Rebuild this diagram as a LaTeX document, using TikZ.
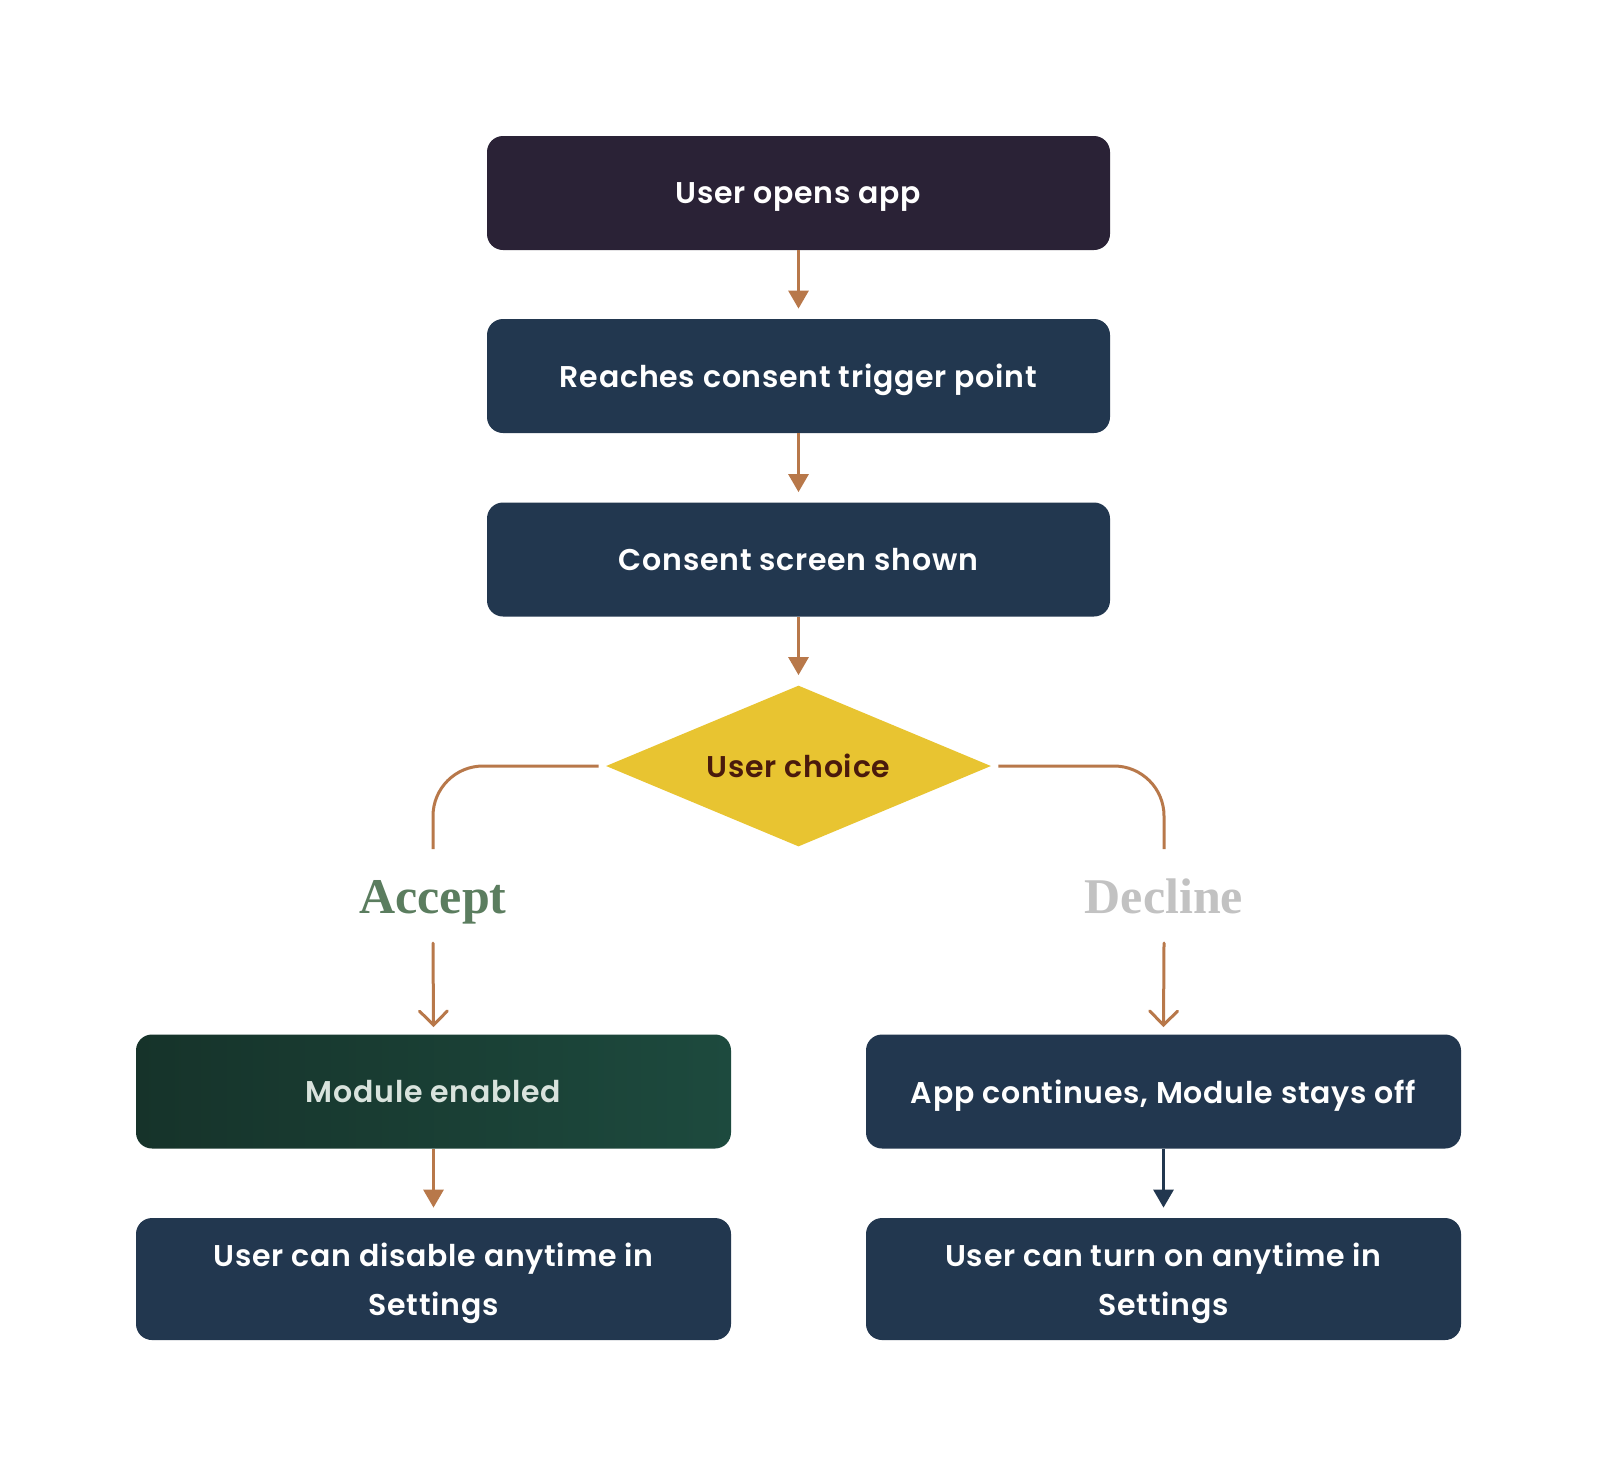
\documentclass[tikz,border=0pt]{standalone}
\usepackage{fontspec}
\setmainfont{Poppins}[BoldFont={Poppins SemiBold},LetterSpace=2.5]
\newfontfamily\labelfont{Liberation Serif}
\usetikzlibrary{shapes.geometric,arrows.meta}
\definecolor{boxdark}{HTML}{2A2236}
\definecolor{navy}{HTML}{22374F}
\definecolor{gleft}{HTML}{16332A}
\definecolor{gright}{HTML}{1D4A3E}
\definecolor{diam}{HTML}{E8C431}
\definecolor{choicetxt}{HTML}{4A1A0C}
\definecolor{arr}{HTML}{B8784A}
\definecolor{acc}{HTML}{5B7D5F}
\definecolor{dec}{HTML}{C2C2C2}
\definecolor{modtxt}{HTML}{D9E3DD}
\tikzset{
  box/.style={rectangle, rounded corners=8pt, minimum width=311.5pt, minimum height=57pt,
    inner sep=0pt, text=white, align=center, text depth=0pt,
    font=\bfseries\fontsize{15}{24.5}\selectfont},
  widebox/.style={box, minimum width=297.5pt},
  tallbox/.style={widebox, minimum height=61pt},
  flow/.style={draw=arr, line width=1.5pt, -{Triangle[width=10pt,length=9pt]}},
  navyflow/.style={draw=navy, line width=1.5pt, -{Triangle[width=10pt,length=9pt]}},
  branch/.style={draw=arr, line width=1.5pt, rounded corners=25pt},
  openflow/.style={draw=arr, line width=1.5pt, line cap=round, -{Straight Barb[width=14pt,length=7pt,line cap=round]}},
  choicelabel/.style={font=\labelfont\bfseries\fontsize{25}{30}\selectfont}
}
\begin{document}
\begin{tikzpicture}[x=0.5pt,y=-0.5pt]
\useasboundingbox (0,0) rectangle (1598,1478);
\fill[white] (0,0) rectangle (1598,1478);

\node[box, fill=boxdark] (open) at (798.5,193) {User opens app};
\node[box, fill=navy] (reach) at (798.5,376) {Reaches consent trigger point};
\node[box, fill=navy] (shown) at (798.5,559.5) {Consent screen shown};
\node[diamond, fill=diam, minimum width=192.5pt, minimum height=80.5pt, aspect=2.39, inner sep=0pt,
  text=choicetxt, text depth=0pt, font=\bfseries\fontsize{15}{18}\selectfont] (choice) at (798.5,766) {User choice};

\coordinate (aL) at (433,849);
\coordinate (aR) at (1164,849);
\node[choicelabel, text=acc] (accept) at (433,902) {Accept};
\node[choicelabel, text=dec] (decline) at (1164,896) {Decline};

\node[widebox, left color=gleft, right color=gright, text=modtxt] (mod) at (433.5,1091.5) {Module enabled};
\node[widebox, fill=navy] (cont) at (1163.5,1091.5) {App continues, Module stays off};
\node[tallbox, fill=navy] (dis) at (433.5,1279) {User can disable anytime in\\Settings};
\node[tallbox, fill=navy] (on) at (1163.5,1279) {User can turn on anytime in\\Settings};

\draw[flow] (open.south) -- ([yshift=5pt]reach.north);
\draw[flow] (reach.south) -- ([yshift=5pt]shown.north);
\draw[flow] (shown.south) -- ([yshift=5pt]choice.north);

\draw[branch] ([xshift=-3.5pt]choice.west) -| (aL);
\draw[branch] ([xshift=3.5pt]choice.east) -| (aR);

\draw[openflow] ([yshift=-20.5pt]accept.center) -- ([yshift=3.5pt]mod.north);
\draw[openflow] ([yshift=-23.5pt]decline.center) -- ([yshift=3.5pt]cont.north);

\draw[flow] (mod.south) -- ([yshift=5pt]dis.north);
\draw[navyflow] (cont.south) -- ([yshift=5pt]on.north);
\end{tikzpicture}
\end{document}
